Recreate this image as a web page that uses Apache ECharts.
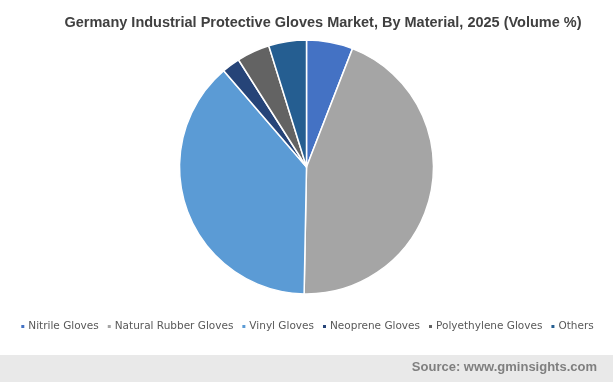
<!DOCTYPE html>
<html><head><meta charset="utf-8">
<script src="https://cdn.jsdelivr.net/npm/echarts@6/dist/echarts.min.js"></script>
<style>html,body{margin:0;padding:0;background:#fff}#c{width:613px;height:382px}</style>
</head><body><div id="c"></div>
<script>
const categories = ["Nitrile Gloves","Natural Rubber Gloves","Vinyl Gloves","Neoprene Gloves","Polyethylene Gloves","Others"];
const values = [5.9, 44.4, 38.4, 2.3, 4.2, 4.8];
const colors = ["#4472C4","#A5A5A5","#5B9BD5","#264478","#636363","#255E91"];
const chart = echarts.init(document.getElementById('c'));
chart.setOption({
  animation:false,
  title:{text:"Germany Industrial Protective Gloves Market, By Material, 2025 (Volume %)",left:318,textAlign:'center',top:10,
    textStyle:{fontFamily:'Liberation Sans, Arial',fontSize:14.5,fontWeight:'bold',color:'#404040'}},
  legend:{top:316,left:'center',itemWidth:5,itemHeight:5,itemGap:7,icon:'rect',
    textStyle:{fontFamily:'DejaVu Sans',fontSize:10.5,color:'#595959',padding:[0,0,0,-2]},
    data:categories},
  graphic:[
    {type:'rect',shape:{x:0,y:355,width:613,height:27},style:{fill:'#E9E9E9'}},
    {type:'text',right:16,top:361,style:{text:'Source: www.gminsights.com',font:'bold 13px Liberation Sans, Arial',fill:'#7F7F7F'}}
  ],
  series:[{type:'pie',center:[306.5,167],radius:[0,127],startAngle:90,clockwise:true,
    label:{show:false},labelLine:{show:false},
    itemStyle:{borderColor:'#fff',borderWidth:1.5},
    data:categories.map((n,i)=>({name:n,value:values[i],itemStyle:{color:colors[i]}}))}]
});
</script></body></html>
